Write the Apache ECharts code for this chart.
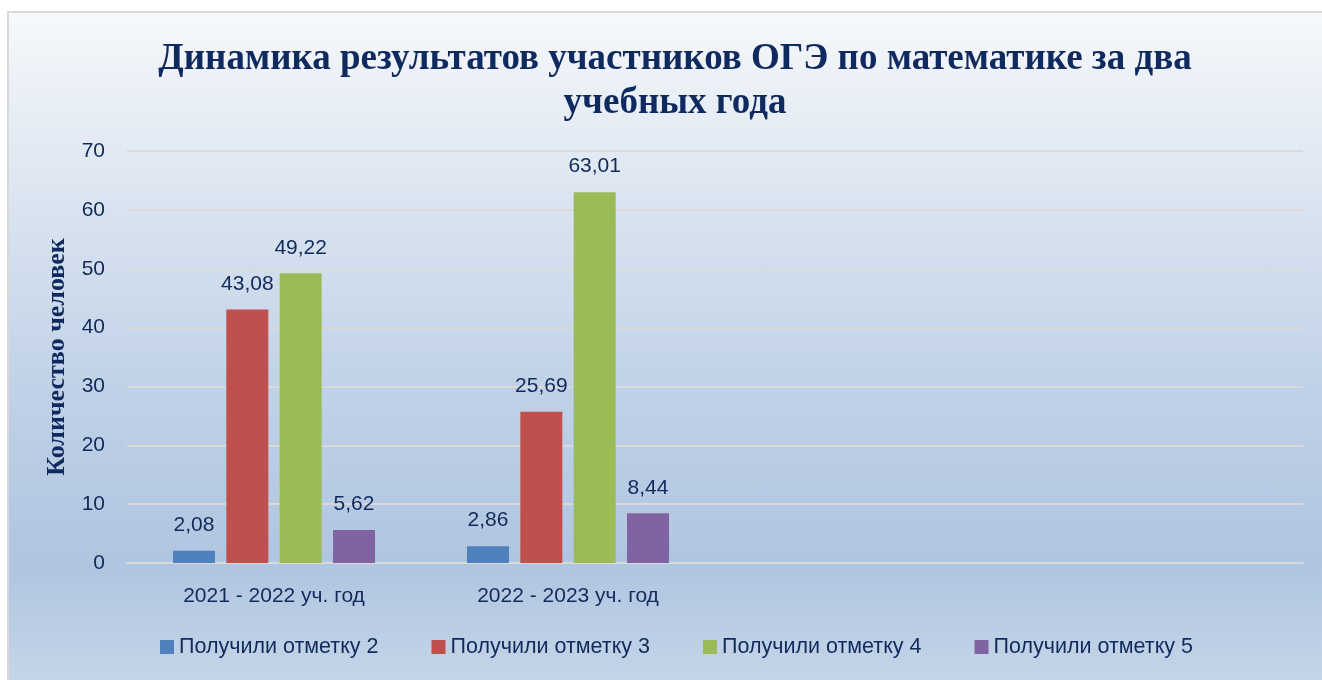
<!DOCTYPE html>
<html>
<head>
<meta charset="utf-8">
<script src="https://cdn.jsdelivr.net/npm/echarts@6/dist/echarts.min.js"></script>
<style>
  html, body { margin: 0; padding: 0; background: #fff; }
  #bg {
    position: absolute; left: 7px; top: 11px; width: 1330px; height: 690px;
    border: 2px solid #d9d9d9;
    background: linear-gradient(to bottom, #f6f8fb 0%, #dde6f1 25%, #c0d1e7 55%, #b0c5e0 80%, #c9d8ea 100%);
  }
  #chart { position: absolute; left: 0; top: 0; width: 1322px; height: 680px; }
</style>
</head>
<body>
<div id="bg"></div>
<div id="chart"></div>
<script>
// data
var categories = ['2021 - 2022 уч. год', '2022 - 2023 уч. год', '', '']
var seriesNames = ['Получили отметку 2', 'Получили отметку 3', 'Получили отметку 4', 'Получили отметку 5']
var grade2 = [2.08, 2.86, null, null]
var grade3 = [43.08, 25.69, null, null]
var grade4 = [49.22, 63.01, null, null]
var grade5 = [5.62, 8.44, null, null]
var colors = ['#4f81bd', '#c0504d', '#9bbb59', '#8064a2']

var textColor = '#112a5c'
var sansFont = 'Liberation Sans'
var values = [grade2, grade3, grade4, grade5]

var series = []
for (var i = 0; i < values.length; i++) {
  series.push({
    name: seriesNames[i],
    type: 'bar',
    data: values[i],
    barWidth: 42,
    barGap: '27%',
    itemStyle: { color: colors[i] },
    label: {
      show: true,
      position: 'top',
      distance: 15,
      color: textColor,
      fontFamily: sansFont,
      fontSize: 21,
      formatter: function (p) {
        return p.value == null ? '' : p.value.toFixed(2).replace('.', ',')
      }
    }
  })
}

var myChart = echarts.init(document.getElementById('chart'))
var option = {
  backgroundColor: 'transparent',
  animation: false,
  title: {
    text: 'Динамика результатов участников ОГЭ по математике за два\nучебных года',
    left: 670,
    textAlign: 'center',
    top: 32,
    textStyle: {
      fontFamily: 'Liberation Serif',
      fontWeight: 'bold',
      fontSize: 37,
      lineHeight: 44,
      color: '#0f2a5f'
    }
  },
  legend: {
    data: seriesNames,
    bottom: 17,
    left: 155,
    itemWidth: 14,
    itemHeight: 14,
    itemGap: 53,
    icon: 'rect',
    textStyle: {
      fontFamily: sansFont,
      fontSize: 21.5,
      color: textColor
    }
  },
  grid: {
    left: 127,
    right: 19,
    top: 151,
    bottom: 117
  },
  xAxis: {
    type: 'category',
    data: categories,
    axisLine: { lineStyle: { color: '#d9d9d9', width: 2 } },
    axisTick: { show: false },
    axisLabel: {
      margin: 23,
      fontFamily: sansFont,
      fontSize: 21,
      color: textColor
    }
  },
  yAxis: {
    type: 'value',
    min: 0,
    max: 70,
    interval: 10,
    name: 'Количество человек',
    nameLocation: 'middle',
    nameGap: 55,
    nameTextStyle: {
      fontFamily: 'Liberation Serif',
      fontWeight: 'bold',
      fontSize: 26,
      color: '#0f2a5f'
    },
    axisLabel: {
      margin: 22,
      fontFamily: sansFont,
      fontSize: 21,
      color: textColor
    },
    splitLine: { lineStyle: { color: '#d9d9d9', width: 2 } }
  },
  series: series
}
myChart.setOption(option, true)
</script>
</body>
</html>
